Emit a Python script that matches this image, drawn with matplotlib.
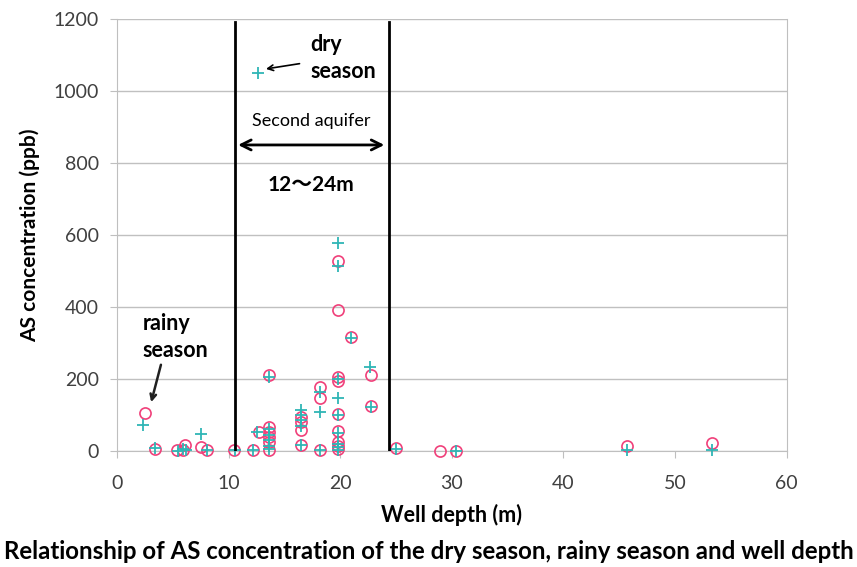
import matplotlib.pyplot as plt

# rainy season (circles)
depth_rainy = [2.5, 3.4, 5.4, 5.9, 6.1, 7.5, 8.1, 10.5, 12.2, 12.7,
               13.6, 13.6, 13.6, 13.6, 13.6, 13.6, 16.5, 16.5, 16.5, 16.5,
               18.2, 18.2, 18.2, 19.8, 19.8, 19.8, 19.8, 19.8, 19.8, 19.8,
               19.8, 19.8, 21.0, 22.8, 22.8, 25.0, 28.9, 30.4, 45.7, 53.3]
as_rainy = [105, 6, 2, 4, 16, 12, 3, 3, 3, 52,
            211, 67, 53, 39, 25, 3, 94, 80, 58, 17,
            178, 147, 3, 528, 392, 205, 195, 103, 56, 25,
            15, 5, 317, 210, 125, 8, 0, 0, 14, 22]

# dry season (pluses)
depth_dry = [2.3, 3.4, 5.5, 5.9, 6.2, 7.5, 8.1, 10.6, 12.2, 12.6,
             12.5, 13.6, 13.6, 13.6, 13.6, 13.6, 13.6, 16.5, 16.5, 16.5,
             16.5, 16.5, 18.2, 18.2, 18.2, 19.8, 19.8, 19.8, 19.8, 19.8,
             19.8, 19.8, 19.8, 19.8, 21.0, 22.7, 22.8, 25.0, 30.4, 45.7, 53.3]
as_dry = [72, 8, 0, 5, 3, 47, 3, 3, 3, 1050,
          52, 205, 60, 45, 30, 15, 5, 114, 100, 86,
          70, 17, 165, 108, 3, 578, 514, 200, 147, 100,
          50, 20, 10, 2, 313, 233, 122, 5, 0, 2, 2]

aquifer_lines = [10.6, 24.4]
xticks = [0, 10, 20, 30, 40, 50, 60]
yticks = [0, 200, 400, 600, 800, 1000, 1200]

plt.rcParams['font.family'] = ['Lato', 'Noto Sans CJK JP', 'DejaVu Sans']

fig = plt.figure(figsize=(8.57, 5.67), dpi=100)
ax = fig.add_axes([0.1365, 0.2046, 0.7815, 0.762])

ax.set_xlim(0, 60)
ax.set_ylim(0, 1200)
ax.set_xticks(xticks)
ax.set_yticks(yticks)
ax.tick_params(labelsize=14, colors='#404040', length=5, color='#BFBFBF')
ax.tick_params(axis='x', pad=12)
ax.tick_params(axis='y', pad=8)
ax.grid(axis='y', color='#C0C0C0', linewidth=1)
ax.set_axisbelow(True)
for s in ['left', 'bottom', 'right']:
    ax.spines[s].set_color('#BFBFBF')
ax.spines['top'].set_visible(False)

ax.plot(depth_rainy, as_rainy, 'o', markersize=8, markerfacecolor='none',
        markeredgecolor='#F0407A', markeredgewidth=1.2, clip_on=False, zorder=3)
ax.plot(depth_dry, as_dry, '+', markersize=9, color='#2FB5B5',
        markeredgewidth=1.3, clip_on=False, zorder=4)

for xl in aquifer_lines:
    ax.plot([xl, xl], [0, 1192], color='black', linewidth=2, zorder=5)

ax.annotate('', xy=(10.6, 850), xytext=(24.2, 850),
            arrowprops=dict(arrowstyle='<->', color='black', lw=2,
                            mutation_scale=18))
ax.text(17.4, 917, 'Second aquifer', ha='center', va='center', fontsize=13)
ax.text(17.4, 739, '12～24m', ha='center', va='center', fontsize=15,
        fontweight='bold')

ax.text(17.3, 1128, 'dry', ha='left', va='center', fontsize=15.5, fontweight='bold')
ax.text(17.3, 1053, 'season', ha='left', va='center', fontsize=15.5, fontweight='bold')
ax.annotate('', xy=(13.1, 1060), xytext=(16.6, 1077),
            arrowprops=dict(arrowstyle='->', color='black', lw=1.2))

ax.text(2.3, 355, 'rainy', ha='left', va='center', fontsize=15.5, fontweight='bold')
ax.text(2.3, 278, 'season', ha='left', va='center', fontsize=15.5, fontweight='bold')
ax.annotate('', xy=(3.0, 128), xytext=(4.0, 247),
            arrowprops=dict(arrowstyle='->', color='#202020', lw=1.8))

ax.set_xlabel('Well depth (m)', fontsize=15.5, fontweight='bold', labelpad=9)
ax.set_ylabel('AS concentration (ppb)', fontsize=15, fontweight='bold', labelpad=10)

fig.text(0.5, 0.027, 'Relationship of AS concentration of the dry season, rainy season and well depth',
         ha='center', va='center', fontsize=17.3, fontweight='bold')

fig.savefig('out.png', dpi=100)
